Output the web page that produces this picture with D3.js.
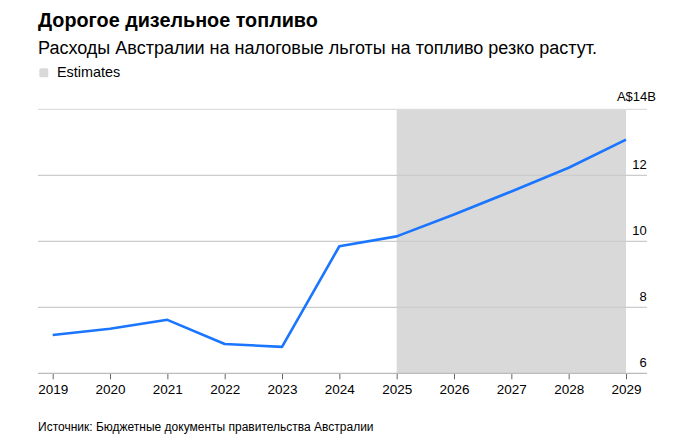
<!DOCTYPE html>
<html>
<head>
<meta charset="utf-8">
<script src="https://cdn.jsdelivr.net/npm/d3@7"></script>
<style>
  html, body { margin: 0; padding: 0; background: #fff; }
  svg { display: block; font-family: "Liberation Sans", Arial, sans-serif; }
</style>
</head>
<body>
<svg id="chart" width="696" height="439"></svg>
<script>
const years = [2019, 2020, 2021, 2022, 2023, 2024, 2025, 2026, 2027, 2028, 2029];
const values = [7.16, 7.35, 7.62, 6.89, 6.80, 9.85, 10.15, 10.81, 11.51, 12.23, 13.08];
const yTicks = [6, 8, 10, 12, 14];
const yTickLabels = ["6", "8", "10", "12", "A$14B"];
const estimateRange = [2025, 2029];

const title = "Дорогое дизельное топливо";
const subtitle = "Расходы Австралии на налоговые льготы на топливо резко растут.";
const legendLabel = "Estimates";
const source = "Источник: Бюджетные документы правительства Австралии";

const svg = d3.select("#chart");

const plotLeft = 38, plotRight = 647;
const x = d3.scaleLinear().domain([2019, 2029]).range([52.7, 626]);
const y = d3.scaleLinear().domain([6, 14]).range([373.3, 109.3]);

// Title etc.
svg.append("text").attr("x", 38).attr("y", 26.5)
  .attr("font-size", 19.8).attr("font-weight", "bold").attr("fill", "#000")
  .text(title);
svg.append("text").attr("x", 38).attr("y", 53.5)
  .attr("font-size", 18).attr("fill", "#000")
  .text(subtitle);

// Legend
svg.append("rect").attr("x", 39.3).attr("y", 68.3).attr("width", 9).attr("height", 9)
  .attr("rx", 1.5).attr("fill", "#d9d9d9");
svg.append("text").attr("x", 57).attr("y", 76.5)
  .attr("font-size", 14.4).attr("fill", "#000").text(legendLabel);

// Estimates shading
svg.append("rect")
  .attr("x", x(estimateRange[0])).attr("y", y(14))
  .attr("width", x(estimateRange[1]) - x(estimateRange[0]))
  .attr("height", y(6) - y(14))
  .attr("fill", "#d9d9d9");

// Gridlines
svg.append("g").selectAll("line").data(yTicks.filter(d => d !== 6)).join("line")
  .attr("x1", plotLeft).attr("x2", plotRight)
  .attr("y1", d => y(d)).attr("y2", d => y(d))
  .attr("stroke", d => d === 14 ? "#dedede" : "#cccccc").attr("stroke-width", 1.2);

// Y tick labels
svg.append("g").selectAll("text").data(yTicks).join("text")
  .attr("x", (d, i) => d === 14 ? 656 : 646.7)
  .attr("y", d => y(d) - (d === 14 ? 8 : 6))
  .attr("text-anchor", "end").attr("font-size", 13).attr("fill", "#000")
  .text((d, i) => yTickLabels[i]);

// X axis
const xAxis = d3.axisBottom(x).tickValues(years).tickFormat(d3.format("d"))
  .tickSize(6).tickPadding(5);
const gx = svg.append("g").attr("transform", `translate(0,${y(6)})`).call(xAxis);
gx.select(".domain").remove();
gx.selectAll(".tick line").attr("stroke", "#666").attr("stroke-width", 1);
gx.selectAll(".tick text").attr("font-size", 13.5).attr("fill", "#000")
  .attr("font-family", "Liberation Sans, Arial, sans-serif");
svg.append("line").attr("x1", plotLeft).attr("x2", plotRight)
  .attr("y1", y(6)).attr("y2", y(6)).attr("stroke", "#bbbbbb").attr("stroke-width", 1.2);

// Line
const line = d3.line().x((d, i) => x(years[i])).y(d => y(d));
svg.append("path").datum(values)
  .attr("d", line).attr("fill", "none")
  .attr("stroke", "#1a75ff").attr("stroke-width", 2.6)
  .attr("stroke-linejoin", "round").attr("stroke-linecap", "butt");

// Source
svg.append("text").attr("x", 38).attr("y", 430.5)
  .attr("font-size", 12).attr("fill", "#000").text(source);
</script>
</body>
</html>
